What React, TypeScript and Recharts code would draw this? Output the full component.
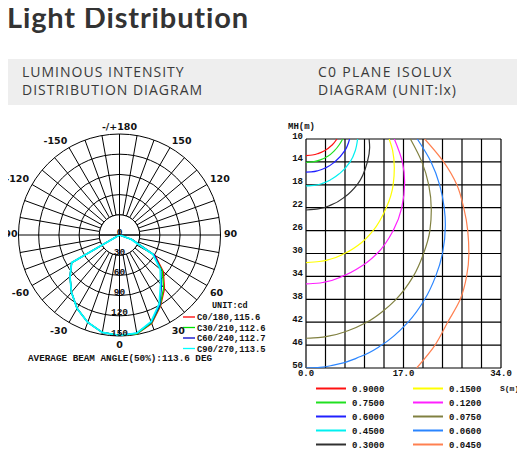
import {
  RadarChart,
  Radar,
  PolarGrid,
  PolarAngleAxis,
  PolarRadiusAxis,
  LineChart,
  Line,
  XAxis,
  YAxis,
  CartesianGrid,
} from 'recharts';

// ---- luminous intensity (cd), gamma angles clockwise from the top ----
const gammaAngles = [
  180, 170, 160, 150, 140, 130, 120, 110, 100, 90, 80, 70, 60, 50, 40, 30, 20, 10,
  0, -10, -20, -30, -40, -50, -60, -70, -80, -90, -100, -110, -120, -130, -140, -150, -160, -170,
];
const c0Values = [
  0, 0, 0, 0, 0, 0, 0, 0, 0, 0, 0, 20, 61, 85, 104, 122, 140, 149,
  149, 147, 138, 126, 111, 96, 82, 0, 0, 0, 0, 0, 0, 0, 0, 0, 0, 0,
];
const c30Values = [
  0, 0, 0, 0, 0, 0, 0, 0, 0, 0, 0, 20, 59, 83, 102, 121, 139, 149,
  149, 147, 138, 126, 111, 96, 82, 0, 0, 0, 0, 0, 0, 0, 0, 0, 0, 0,
];
const c60Values = [
  0, 0, 0, 0, 0, 0, 0, 0, 0, 0, 0, 20, 60, 80, 97, 120, 138, 148,
  149, 147, 138, 126, 111, 96, 82, 0, 0, 0, 0, 0, 0, 0, 0, 0, 0, 0,
];
const c90Values = [
  0, 0, 0, 0, 0, 0, 0, 0, 0, 0, 0, 18, 57, 79, 95, 118, 137, 148,
  149, 147, 138, 126, 111, 96, 82, 0, 0, 0, 0, 0, 0, 0, 0, 0, 0, 0,
];
const radiusTicks = [0, 30, 60, 90, 120, 150];

const polarSeries = [
  { key: 'c0', label: 'C0/180,115.6', color: '#ff0000', width: 1.3 },
  { key: 'c30', label: 'C30/210,112.6', color: '#00e000', width: 1.3 },
  { key: 'c60', label: 'C60/240,112.7', color: '#0000c8', width: 1.3 },
  { key: 'c90', label: 'C90/270,113.5', color: '#00ffff', width: 1.8 },
];

// ring / cross are only there to hide the spokes inside the 30 cd circle
const radarData = gammaAngles.map((angle, i) => ({
  angle,
  ring: 30,
  cross: angle % 90 === 0 ? 30 : 0,
  c0: c0Values[i],
  c30: c30Values[i],
  c60: c60Values[i],
  c90: c90Values[i],
}));

// ---- isolux curves, [S(m), MH(m)] ----
const iso0900 = [[5.4, 10], [4.6, 11], [3.3, 12], [2.2, 12.5], [1.1, 12.8], [0, 12.9]];
const iso0750 = [[6.4, 10], [5.8, 11], [5.0, 12], [3.8, 13], [2.6, 13.6], [1.4, 13.95], [0, 14.1]];
const iso0600 = [[7.6, 10], [6.8, 12], [5.0, 14], [3.5, 15], [2.2, 15.5], [0.9, 15.75], [0, 15.8]];
const iso0450 = [[9.0, 10], [8.6, 12], [7.7, 14], [5.9, 16], [4.5, 17], [3.0, 17.7], [1.4, 18.1], [0, 18.2]];
const iso0300 = [[11.0, 10], [11.1, 11.5], [10.7, 14], [8.9, 18], [6.9, 20], [4.4, 21.5], [2.1, 22.2], [0, 22.4]];
const iso0150 = [
  [14.5, 10], [15.1, 12], [15.4, 15], [15.2, 18], [14.0, 22], [11.7, 26], [9.8, 28], [6.7, 30],
  [4.2, 31], [2.3, 31.4], [0, 31.6],
];
const iso0120 = [
  [15.4, 10], [16.8, 14], [17.2, 17.5], [16.7, 22], [15.2, 26], [12.4, 30], [10.0, 32], [6.3, 34],
  [3.2, 35], [1.9, 35.2], [0, 35.3],
];
const iso0075 = [
  [18.2, 10], [20.2, 14], [21.4, 18], [21.85, 22.4], [21.6, 26], [20.5, 30], [18.7, 34], [15.7, 38],
  [13.5, 40], [10.6, 42], [7.3, 43.5], [4.1, 44.4], [2.1, 44.7], [0, 44.8],
];
const iso0060 = [
  [19.4, 10], [21.8, 14], [23.3, 18], [24.1, 22], [24.3, 25], [23.8, 30], [22.6, 34], [20.7, 38],
  [17.8, 42], [13.2, 46], [9.5, 48], [4.8, 49.5], [2.4, 49.88], [0, 50],
];
const iso0045 = [
  [20.7, 10], [24.0, 14], [26.3, 18], [27.5, 22], [28.2, 26], [28.4, 30], [28.0, 34], [26.9, 38],
  [24.7, 42], [22.5, 46], [19.3, 50],
];

const sTicks = [0, 3.4, 6.8, 10.2, 13.6, 17, 20.4, 23.8, 27.2, 30.6, 34];
const sLabelled = [0, 17, 34];
const mhTicks = [10, 14, 18, 22, 26, 30, 34, 38, 42, 46, 50];

const isoSeries = [
  { level: '0.9000', color: '#ff1010', pts: iso0900 },
  { level: '0.7500', color: '#20e020', pts: iso0750 },
  { level: '0.6000', color: '#2020ff', pts: iso0600 },
  { level: '0.4500', color: '#00f0f0', pts: iso0450 },
  { level: '0.3000', color: '#303030', pts: iso0300 },
  { level: '0.1500', color: '#ffff00', pts: iso0150 },
  { level: '0.1200', color: '#ff20ff', pts: iso0120 },
  { level: '0.0750', color: '#808040', pts: iso0075 },
  { level: '0.0600', color: '#2a85ff', pts: iso0060 },
  { level: '0.0450', color: '#ff8050', pts: iso0045 },
];

const MONO = '"Liberation Mono", monospace';
const POLAR_CY = 125;

const AngleTick = (p: any) => {
  const v = p.payload.value;
  if (v % 30 !== 0) return <g />;
  const rel = p.y - POLAR_CY;
  const dy = rel < -5 ? -4 : rel > 5 ? 5 : -1.5;
  // keep the far-left label inside the picture
  const dx = p.textAnchor === 'end' && Math.abs(rel) <= 5 ? 2.5 : 0;
  return (
    <text x={p.x + dx} y={p.y + dy} textAnchor={p.textAnchor} dominantBaseline="central"
      fontFamily="DejaVu Sans" fontWeight={700} fontSize={9.5} fill="#111">
      {v === 180 ? '-/+180' : String(v)}
    </text>
  );
};

const RadiusTick = (p: any) => (
  <text x={p.x} y={p.y - 3} textAnchor="middle" dominantBaseline="central"
    fontFamily={MONO} fontWeight={700} fontSize={9.5} fill="#111">
    {p.payload.value}
  </text>
);

const IsoXTick = (p: any) => {
  const v = p.payload.value;
  const show = sLabelled.some((t) => Math.abs(t - v) < 0.01);
  if (!show) return <g />;
  return (
    <text x={p.x} y={p.y + 4} textAnchor="middle" dominantBaseline="central"
      fontFamily={MONO} fontWeight={700} fontSize={9} fill="#111">
      {Number(v).toFixed(1)}
    </text>
  );
};

const IsoYTick = (p: any) => (
  <text x={p.x} y={p.y - 2.5} textAnchor="end" dominantBaseline="central"
    fontFamily={MONO} fontWeight={700} fontSize={9} fill="#111">
    {p.payload.value}
  </text>
);

export default function App() {
  return (
    <div style={{ position: 'relative', width: 525, height: 453, margin: '-8px 0 0 -8px', background: '#fff' }}>
      <svg width={525} height={453} style={{ position: 'absolute', left: 0, top: 0 }}>
        <text x={7} y={28} fontFamily="Lato" fontWeight={700} fontSize={29} fill="#333" letterSpacing={0.85}>
          Light Distribution
        </text>
        <rect x={5} y={59} width={516} height={46} fill="#eeeeee" />
        <g fontFamily="Open Sans" fontSize={14} fill="#3a3a3a" letterSpacing={1}>
          <text x={22} y={77}>LUMINOUS INTENSITY</text>
          <text x={22} y={95}>DISTRIBUTION DIAGRAM</text>
          <text x={318} y={77} letterSpacing={1.3}>C0 PLANE ISOLUX</text>
          <text x={318} y={95}>DIAGRAM (UNIT:lx)</text>
        </g>

        <text x={212} y={308} fontFamily={MONO} fontWeight={700} fontSize={8.5} fill="#111">UNIT:cd</text>
        {polarSeries.map((s, i) => (
          <g key={s.key}>
            <line x1={183} x2={195} y1={317 + i * 10.5} y2={317 + i * 10.5} stroke={s.color} strokeWidth={1.3} />
            <text x={197} y={320 + i * 10.5} fontFamily={MONO} fontWeight={700} fontSize={8.8} fill="#111">
              {s.label}
            </text>
          </g>
        ))}
        <text x={28} y={361} fontFamily={MONO} fontWeight={700} fontSize={9.3} fill="#111">
          AVERAGE BEAM ANGLE(50%):113.6 DEG
        </text>

        <text x={288} y={129} fontFamily={MONO} fontWeight={700} fontSize={9} fill="#111">MH(m)</text>
        <text x={500} y={391} fontFamily={MONO} fontWeight={700} fontSize={8} fill="#111">S(m)</text>
        {isoSeries.map((s, i) => {
          const col = i < 5 ? 0 : 1;
          const row = i % 5;
          const x0 = col === 0 ? 316 : 413;
          const y = 388.5 + row * 14;
          return (
            <g key={s.level}>
              <line x1={x0} x2={x0 + 30} y1={y} y2={y} stroke={s.color} strokeWidth={2} />
              <text x={x0 + 36} y={y + 3} fontFamily={MONO} fontWeight={700} fontSize={9} fill="#111">{s.level}</text>
            </g>
          );
        })}
      </svg>

      <div style={{ position: 'absolute', left: 0, top: 110 }}>
        <RadarChart width={250} height={250} cx={119.5} cy={POLAR_CY} outerRadius={101} data={radarData}
          margin={{ top: 0, right: 0, bottom: 0, left: 0 }}>
          <PolarGrid gridType="circle" stroke="#000" strokeWidth={1} strokeOpacity={1} />
          {/* inner mask and axis cross */}
          <Radar dataKey="ring" stroke="#000" strokeWidth={1} fill="#fff" fillOpacity={1} isAnimationActive={false} />
          <Radar dataKey="cross" stroke="#000" strokeWidth={1} fill="none" isAnimationActive={false} />
          {polarSeries.map((s) => (
            <Radar key={s.key} dataKey={s.key} stroke={s.color} strokeWidth={s.width} fill="none"
              fillOpacity={0} isAnimationActive={false} />
          ))}
          <PolarAngleAxis dataKey="angle" tick={AngleTick} tickLine={false} axisLine={false} tickSize={3.5} />
          <PolarRadiusAxis angle={-90} domain={[0, 150]} ticks={radiusTicks} tickCount={6} tick={RadiusTick}
            axisLine={false} tickLine={false} />
        </RadarChart>
      </div>

      <div style={{ position: 'absolute', left: 270, top: 120 }}>
        <LineChart width={255} height={260} margin={{ top: 19, right: 24, bottom: 0, left: 6 }}>
          <CartesianGrid stroke="#000" strokeWidth={1.2} />
          <XAxis type="number" dataKey="s" domain={[0, 34]} ticks={sTicks} height={12} tickSize={0} tickMargin={2}
            tick={IsoXTick} axisLine={false} tickLine={false} allowDataOverflow interval={0} />
          <YAxis type="number" domain={[10, 50]} ticks={mhTicks} reversed width={30} tickSize={0} tickMargin={3}
            tick={IsoYTick} axisLine={false} tickLine={false} allowDataOverflow interval={0} />
          {isoSeries.map((s) => (
            <Line key={s.level} data={s.pts.map(([sv, h]) => ({ s: sv, h }))} dataKey="h" stroke={s.color}
              strokeWidth={1.2} dot={false} type="monotoneY" isAnimationActive={false} />
          ))}
        </LineChart>
      </div>
    </div>
  );
}
